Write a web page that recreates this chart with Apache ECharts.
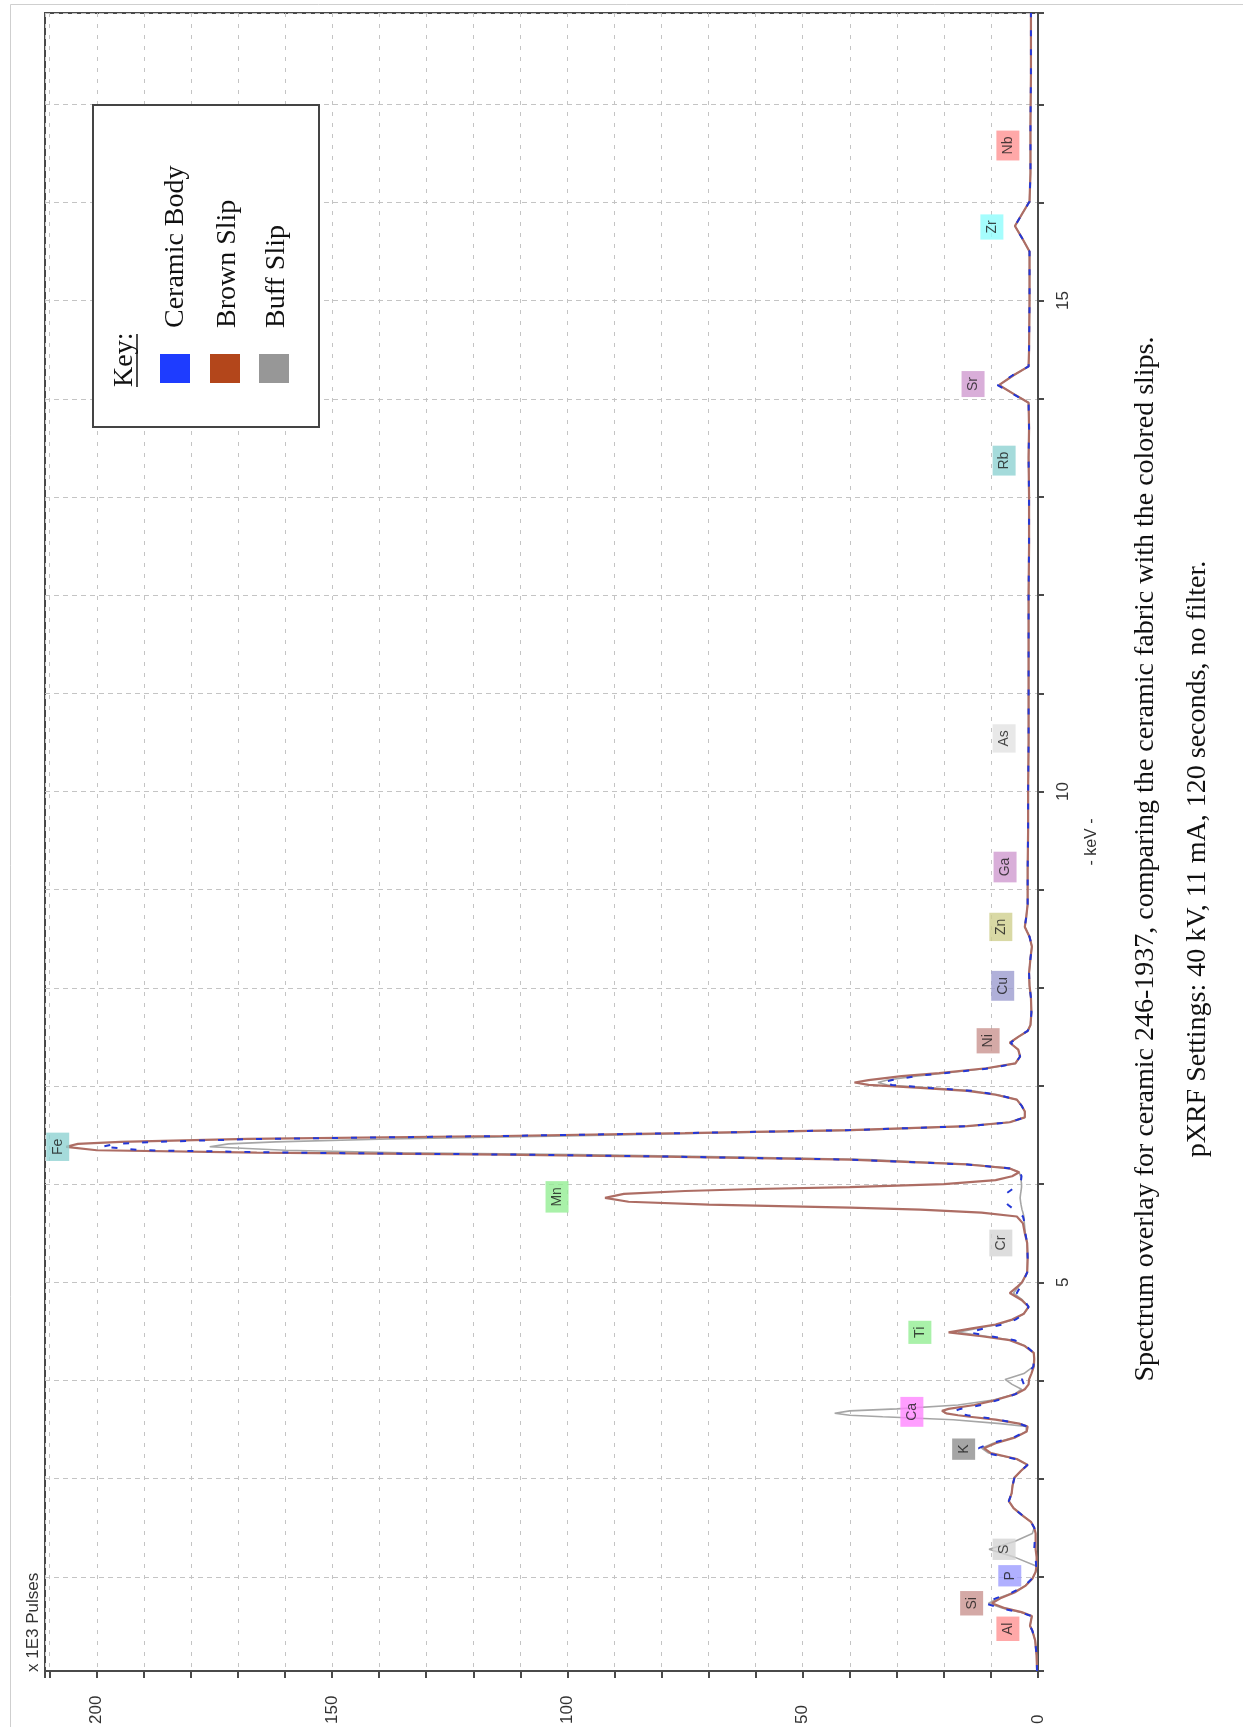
<!DOCTYPE html>
<html>
<head>
<meta http-equiv="Content-Type" content="text/html; charset=UTF-8">
<title>Spectrum overlay 246-1937</title>
<script type="text/javascript" src="https://cdn.jsdelivr.net/npm/echarts@6/dist/echarts.min.js"></script>
<style type="text/css">
 html,body{margin:0;padding:0;background:#fff;}
 #mainChart{width:1243px;height:1727px;}
</style>
</head>
<body>
<div id="mainChart"></div>
<script type="text/javascript">
// energy axis (keV), shared by the three spectra
var kev = [
  1.04, 1.20, 1.35, 1.45, 1.50, 1.55, 1.60, 1.64, 1.68, 1.73,
  1.78, 1.84, 1.91, 1.98, 2.05, 2.11, 2.20, 2.28, 2.36, 2.44,
  2.50, 2.56, 2.62, 2.70, 2.77, 2.85, 2.93, 3.01, 3.08, 3.14,
  3.20, 3.26, 3.31, 3.36, 3.42, 3.48, 3.53, 3.56, 3.60, 3.63,
  3.645, 3.665, 3.69, 3.71, 3.75, 3.80, 3.86, 3.91, 3.96, 4.01,
  4.07, 4.14, 4.22, 4.28, 4.35, 4.41, 4.45, 4.49, 4.53, 4.57,
  4.62, 4.68, 4.75, 4.82, 4.89, 4.95, 5.00, 5.10, 5.25, 5.40,
  5.50, 5.60, 5.67, 5.71, 5.74, 5.76, 5.79, 5.82, 5.86, 5.90,
  5.93, 5.95, 5.97, 6.00, 6.04, 6.08, 6.12, 6.16, 6.20, 6.25,
  6.28, 6.30, 6.32, 6.345, 6.38, 6.41, 6.43, 6.46, 6.49, 6.52,
  6.55, 6.59, 6.63, 6.68, 6.74, 6.80, 6.86, 6.91, 6.95, 6.98,
  7.01, 7.035, 7.06, 7.10, 7.13, 7.18, 7.23, 7.30, 7.37, 7.44,
  7.50, 7.56, 7.62, 7.75, 7.90, 8.02, 8.15, 8.30, 8.42, 8.52,
  8.62, 8.72, 8.85, 9.20, 9.60, 10.00, 10.50, 11.00, 11.50, 12.00,
  12.50, 13.00, 13.40, 13.70, 13.96, 14.05, 14.14, 14.24, 14.33, 14.50,
  15.00, 15.50, 15.63, 15.76, 15.89, 16.01, 16.30, 16.80, 17.30, 17.93
];
// counts, x 1E3 pulses
var ceramicBody = [
  0.2, 0.3, 0.6, 1.2, 1.7, 1.5, 1.4, 4.0, 8.0, 11.3,
  9.0, 5.5, 2.8, 1.3, 0.5, 0.4, 0.5, 0.8, 0.7, 0.6,
  0.8, 1.5, 3.2, 5.2, 6.2, 5.6, 5.4, 5.0, 3.6, 2.2,
  4.8, 11.0, 12.6, 10.0, 5.2, 2.5, 2.3, 4.0, 8.5, 12.5,
  15.0, 17.0, 17.7, 16.5, 12.0, 8.5, 4.8, 3.0, 3.0, 3.4,
  2.2, 1.0, 0.8, 0.9, 2.5, 5.0, 10.0, 14.7, 11.5, 7.5,
  4.8, 2.8, 2.0, 3.0, 4.5, 3.8, 3.2, 2.3, 2.2, 2.3,
  2.7, 2.8, 3.2, 4.0, 5.0, 5.6, 6.4, 6.9, 7.2, 6.9,
  6.0, 5.4, 4.8, 4.0, 3.6, 3.5, 3.8, 6.0, 15.0, 40.0,
  78.0, 110, 158, 190, 199, 196, 188, 166, 114, 75,
  40, 15, 6.0, 2.8, 2.8, 3.5, 4.5, 8.5, 14, 23,
  31, 33, 31, 26, 20, 10, 4.8, 3.8, 4.2, 5.8,
  4.2, 2.2, 1.6, 1.4, 1.5, 1.8, 1.9, 1.6, 1.3, 1.8,
  2.8, 2.5, 2.2, 2.2, 2.1, 2.1, 2.0, 2.0, 2.0, 2.0,
  1.9, 1.9, 2.0, 1.9, 2.0, 5.4, 8.6, 5.4, 2.0, 1.9,
  1.8, 1.8, 3.3, 4.9, 3.3, 1.8, 1.6, 1.6, 1.5, 1.5
];
var brownSlip = [
  0.2, 0.3, 0.6, 1.2, 1.7, 1.5, 1.3, 3.5, 7.0, 9.8,
  8.0, 5.0, 2.6, 1.2, 0.5, 0.3, 0.3, 0.5, 0.5, 0.5,
  0.8, 1.5, 3.2, 5.2, 6.2, 5.6, 5.4, 5.0, 3.6, 2.2,
  4.5, 10.0, 11.5, 9.0, 4.8, 2.4, 2.2, 4.0, 9.0, 14.5,
  17.0, 19.5, 20.4, 19.0, 13.5, 9.0, 4.8, 2.8, 2.0, 1.9,
  1.4, 0.9, 0.8, 0.9, 2.8, 6.0, 12.0, 19.0, 14.0, 9.0,
  5.5, 3.0, 2.0, 3.5, 6.0, 4.5, 3.4, 2.3, 2.2, 2.3,
  2.8, 3.2, 4.5, 12.0, 25.0, 40.0, 70.0, 87.0, 92.0, 88.0,
  75.0, 60.0, 40.0, 20.0, 9.0, 5.5, 4.0, 6.0, 15.0, 40.0,
  80.0, 114, 166, 200, 206.5, 204, 195, 168, 114, 75,
  40, 15, 6.0, 2.8, 2.8, 3.5, 4.5, 9.0, 15, 25,
  36, 39, 36, 29, 21, 11, 4.8, 3.8, 4.2, 6.0,
  4.2, 2.2, 1.6, 1.4, 1.5, 1.8, 1.9, 1.6, 1.3, 1.8,
  2.8, 2.5, 2.2, 2.2, 2.1, 2.1, 2.0, 2.0, 2.0, 2.0,
  1.9, 1.9, 2.0, 1.9, 2.0, 5.2, 8.3, 5.2, 2.0, 1.9,
  1.8, 1.8, 3.3, 4.9, 3.3, 1.8, 1.6, 1.6, 1.5, 1.5
];
var buffSlip = [
  0.2, 0.3, 0.6, 1.2, 1.7, 1.5, 1.3, 3.8, 7.5, 10.5,
  8.5, 5.2, 2.7, 1.2, 0.5, 0.4, 5.0, 10.4, 5.0, 1.2,
  0.8, 1.5, 3.2, 5.2, 6.2, 5.6, 5.4, 5.0, 3.6, 2.2,
  4.6, 10.5, 12.0, 9.5, 5.0, 2.5, 2.5, 8.0, 18.0, 33.0,
  40.0, 43.2, 40.0, 30.0, 17.0, 9.5, 5.0, 3.5, 5.5, 7.0,
  3.0, 1.0, 0.8, 0.9, 2.7, 5.5, 11.0, 17.0, 13.0, 8.5,
  5.2, 3.0, 2.0, 3.3, 5.2, 4.2, 3.3, 2.3, 2.2, 2.3,
  2.7, 2.9, 3.0, 3.2, 3.4, 3.5, 3.6, 3.7, 3.8, 3.7,
  3.6, 3.5, 3.5, 3.5, 3.6, 3.7, 4.0, 6.0, 14.0, 36.0,
  70.0, 98, 135, 160, 176, 172, 162, 138, 100, 68,
  38, 15, 6.0, 2.8, 2.8, 3.5, 4.5, 8.5, 14, 23,
  32, 34, 32, 26, 20, 10.5, 4.8, 3.8, 4.2, 6.0,
  4.2, 2.2, 1.6, 1.4, 1.5, 1.8, 1.9, 1.6, 1.3, 1.8,
  2.8, 2.5, 2.2, 2.2, 2.1, 2.1, 2.0, 2.0, 2.0, 2.0,
  1.9, 1.9, 2.0, 1.9, 2.0, 5.2, 8.3, 5.2, 2.0, 1.9,
  1.8, 1.8, 3.3, 4.9, 3.3, 1.8, 1.6, 1.6, 1.5, 1.5
];
// element markers: name, energy (keV) and where the tag sits (x 1E3 pulses)
var elementNames = ['Al', 'Si', 'P', 'S', 'K', 'Ca', 'Ti', 'Cr', 'Mn', 'Fe', 'Ni', 'Cu', 'Zn', 'Ga', 'As', 'Rb', 'Sr', 'Zr', 'Nb'];
var elementKeV = [1.47, 1.73, 2.01, 2.28, 3.30, 3.68, 4.49, 5.40, 5.87, 6.38, 7.46, 8.02, 8.62, 9.23, 10.54, 13.37, 14.15, 15.75, 16.58];
var elementPulses = [6.4, 14.1, 6.0, 7.2, 15.8, 26.8, 25.1, 7.9, 102.2, 208.3, 10.6, 7.5, 7.9, 7.0, 7.2, 7.2, 13.8, 9.8, 6.4];
var seriesNames = ['Ceramic Body', 'Brown Slip', 'Buff Slip'];

var tagColor = {
  Al: '#ff9292', Si: '#c99390', P: '#9c9cff', S: '#d4d4d4', K: '#8e8e8e', Ca: '#ff86ff',
  Ti: '#94ee94', Cr: '#d4d4d4', Mn: '#94ee94', Fe: '#8ed2d2', Ni: '#c99390', Cu: '#9c9cd0',
  Zn: '#cfcf8e', Ga: '#cf9acf', As: '#e2e2e2', Rb: '#8ed2d2', Sr: '#cf9acf', Zr: '#8efcfc', Nb: '#ff9292'
};

function pairs(vals) {
  return kev.map(function (k, i) { return [vals[i], k]; });
}

var tags = elementNames.map(function (n, i) {
  return { name: n, value: [elementPulses[i], elementKeV[i]], label: { backgroundColor: tagColor[n] } };
});

var serif = '"Liberation Serif", "Times New Roman", serif';
var sans = '"Liberation Sans", Arial, sans-serif';

// text turned a quarter turn, read from bottom to top
function vtext(x, y, str, size, family, align, extra) {
  var el = {
    type: 'text', x: x, y: y, rotation: Math.PI / 2, z: 110,
    style: {
      text: str, fontSize: size, fontFamily: family, fill: '#111',
      align: align, verticalAlign: 'middle', textAlign: align, textVerticalAlign: 'middle'
    }
  };
  if (extra) { for (var k in extra) el.style[k] = extra[k]; }
  return el;
}

var myChart = echarts.init(document.getElementById('mainChart'));
var option = {
  animation: false,
  backgroundColor: '#fff',
  grid: { left: 45, right: 205, top: 13, bottom: 56, show: true, borderColor: '#4a4a4a', borderWidth: 2 },
  xAxis: {
    type: 'value', inverse: true, min: 0, max: 211, minInterval: 10, maxInterval: 10,
    axisLine: { show: true, lineStyle: { color: '#4a4a4a', width: 2 } },
    axisTick: { show: true, length: 7, lineStyle: { color: '#4a4a4a', width: 2 } },
    axisLabel: {
      rotate: 90, align: 'left', verticalAlign: 'middle', margin: 53,
      fontSize: 17, fontFamily: sans, color: '#333',
      formatter: function (v) { return v % 50 === 0 ? String(v) : ''; }
    },
    splitLine: { show: true, lineStyle: { color: '#c4c4c4', width: 1, type: [4, 7] } }
  },
  yAxis: {
    type: 'value', position: 'right', min: 1.04, max: 17.93, minInterval: 1, maxInterval: 1,
    axisLine: { show: true, lineStyle: { color: '#4a4a4a', width: 2 } },
    axisTick: { show: true, length: 6, lineStyle: { color: '#4a4a4a', width: 2 } },
    axisLabel: {
      rotate: 90, align: 'center', verticalAlign: 'top', margin: 17,
      fontSize: 17, fontFamily: sans, color: '#333',
      formatter: function (v) { return Math.abs(v - Math.round(v / 5) * 5) < 1e-6 && v > 2 ? String(Math.round(v)) : ''; }
    },
    splitLine: { show: true, lineStyle: { color: '#c4c4c4', width: 1, type: [5, 4] } }
  },
  series: [
    {
      name: seriesNames[2], type: 'line', data: pairs(buffSlip), showSymbol: false, z: 2,
      lineStyle: { color: '#a6a6a6', width: 1.6 }
    },
    {
      name: seriesNames[1], type: 'line', data: pairs(brownSlip), showSymbol: false, z: 3,
      lineStyle: { color: '#ad6d64', width: 2.2 }
    },
    {
      // blue only shows through in short pieces where it lies on the brown trace
      name: seriesNames[0], type: 'line', data: pairs(ceramicBody), showSymbol: false, z: 4,
      lineStyle: { color: '#2437d6', width: 2, type: [6, 13] }
    },
    {
      name: 'elements', type: 'scatter', data: tags, symbolSize: 0, z: 6, silent: true,
      label: {
        show: true, position: 'inside', rotate: 90, formatter: '{b}',
        fontSize: 14, fontFamily: sans, color: '#1a1a1a', padding: [5, 6, 4, 6]
      }
    }
  ],
  graphic: [
    // outer frame of the figure
    { type: 'polyline', z: 100, shape: { points: [[10.5, 1727], [10.5, 4.5], [1243, 4.5]] }, style: { stroke: '#cfcfcf', lineWidth: 1, fill: null } },
    vtext(33, 1672, 'x 1E3 Pulses', 17, sans, 'left', { fill: '#333' }),
    vtext(1092, 842, '- keV -', 16, sans, 'center', { fill: '#333' }),
    vtext(1146, 859, 'Spectrum overlay for ceramic 246-1937, comparing the ceramic fabric with the colored slips.', 28, serif, 'center'),
    vtext(1198, 859, 'pXRF Settings: 40 kV, 11 mA, 120 seconds, no filter.', 28, serif, 'center'),
    // key box
    { type: 'rect', z: 105, shape: { x: 93, y: 105, width: 226, height: 322 }, style: { fill: '#fff', stroke: '#444', lineWidth: 2 } },
    vtext(125, 387, 'Key:', 28, serif, 'left'),
    { type: 'line', z: 110, shape: { x1: 137, y1: 387, x2: 137, y2: 334 }, style: { stroke: '#111', lineWidth: 1.5 } },
    { type: 'rect', z: 110, shape: { x: 160, y: 354, width: 30, height: 29 }, style: { fill: '#1e3cff' } },
    { type: 'rect', z: 110, shape: { x: 210, y: 354, width: 30, height: 29 }, style: { fill: '#b3461b' } },
    { type: 'rect', z: 110, shape: { x: 259, y: 354, width: 30, height: 29 }, style: { fill: '#979797' } },
    vtext(176, 328, seriesNames[0], 28, serif, 'left'),
    vtext(228, 328, seriesNames[1], 28, serif, 'left'),
    vtext(277, 328, seriesNames[2], 28, serif, 'left')
  ]
};
myChart.setOption(option);
</script>
</body>
</html>
